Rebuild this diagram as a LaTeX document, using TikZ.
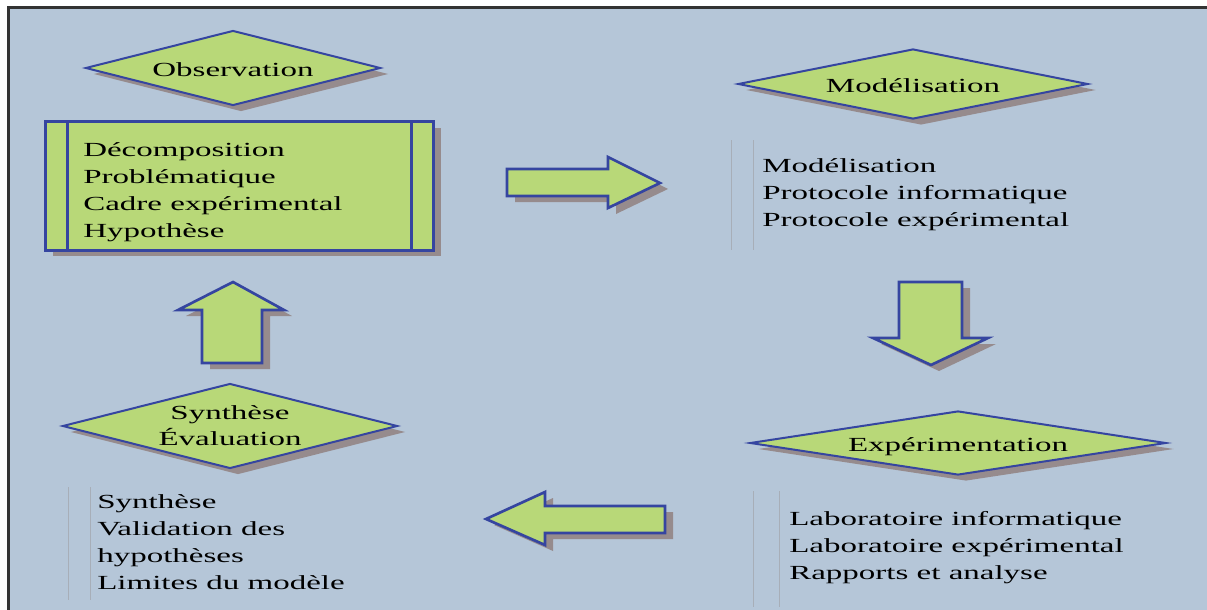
\documentclass[tikz,border=0pt]{standalone}
\usepackage{fontspec}
\setmainfont{Liberation Serif}[FakeStretch=1.65]
\usetikzlibrary{shapes.geometric, shadows}

\definecolor{panelbg}{HTML}{B5C6D8}
\definecolor{stepgreen}{HTML}{B8D878}
\definecolor{stepblue}{HTML}{3545A0}
\definecolor{shadowgray}{HTML}{968B8D}
\definecolor{guidegray}{HTML}{A7AEB8}

\newcommand\stepfont{\fontsize{15pt}{20.25pt}\selectfont}

\tikzset{
  softshadow/.style = {
    drop shadow = {shadow xshift=6pt, shadow yshift=-4.5pt, fill=shadowgray, opacity=1}
  },
  phase/.style = {
    diamond, draw=stepblue, line width=1.5pt, fill=stepgreen, inner sep=0pt,
    align=center, font=\stepfont, softshadow
  },
  oneline/.style = {text height=13pt, text depth=0pt},
  tasklist/.style = {anchor=base west, align=left, inner sep=0pt, font=\stepfont},
  bigarrow/.style = {draw=stepblue, line width=2pt, fill=stepgreen, line join=miter, softshadow},
  guide/.style = {draw=guidegray, line width=0.7pt}
}

\begin{document}
\begin{tikzpicture}[x=0.75pt, y=-0.75pt]

    % Frame
    \useasboundingbox (0,0) rectangle (1207,610);
    \fill[white] (0,0) rectangle (1207,610);
    \fill[panelbg] (8,8) rectangle (1207,610);
    \draw[line width=2.25pt, black!80] (8,610) -- (8,8) -- (1207,8);

    %% Observation
    \node[phase, oneline, aspect=3.9, minimum width=295*0.75pt, minimum height=75*0.75pt] (observation) at (233,68) {Observation};
    \node[draw=stepblue, line width=2.25pt, fill=stepgreen, softshadow,
          minimum width=388*0.75pt, minimum height=128*0.75pt] (obsbox) at (239,186) {};
    \draw[stepblue, line width=2.25pt] ([xshift=18pt]obsbox.north west) -- ([xshift=18pt]obsbox.south west);
    \draw[stepblue, line width=2.25pt] ([xshift=-17.25pt]obsbox.north east) -- ([xshift=-17.25pt]obsbox.south east);
    % base anchor sits on the last line
    \node[tasklist] (obslist) at (83,237) {D\'ecomposition\\Probl\'ematique\\Cadre exp\'erimental\\Hypoth\`ese};

    %% Modelisation
    \node[phase, oneline, aspect=5, minimum width=350*0.75pt, minimum height=70*0.75pt] (modelisation) at (913,84) {Mod\'elisation};
    \draw[guide] (731,140) -- (731,250);
    \draw[guide] (753,140) -- (753,250);
    \node[tasklist] (modlist) at (762,226) {Mod\'elisation\\Protocole informatique\\Protocole exp\'erimental};

    %% Experimentation
    \node[phase, oneline, aspect=6.5, minimum width=416*0.75pt, minimum height=64*0.75pt] (experimentation) at (958,443) {Exp\'erimentation};
    \draw[guide] (753,491) -- (753,607);
    \draw[guide] (779,491) -- (779,607);
    \node[tasklist] (explist) at (789,579) {Laboratoire informatique\\Laboratoire exp\'erimental\\Rapports et analyse};

    %% Synthese
    \node[phase, aspect=3.9, minimum width=335*0.75pt, minimum height=85*0.75pt,
          font=\fontsize{15pt}{19.5pt}\selectfont] (synthese) at (230,426) {Synth\`ese\\\'Evaluation};
    \draw[guide] (68,487) -- (68,600);
    \draw[guide] (90,487) -- (90,600);
    \node[tasklist] (synlist) at (97,589) {Synth\`ese\\Validation des\\hypoth\`eses\\Limites du mod\`ele};

    % Arrows
    \draw[bigarrow] (507,169) -- (608,169) -- (608,157) -- (660,183) -- (608,208) -- (608,196) -- (507,196) -- cycle;
    \draw[bigarrow] (899,282) -- (962,282) -- (962,338) -- (988,338) -- (931,365) -- (873,338) -- (899,338) -- cycle;
    \draw[bigarrow] (665,506) -- (545,506) -- (545,492) -- (486,519) -- (545,545) -- (545,533) -- (665,533) -- cycle;
    \draw[bigarrow] (202,363) -- (202,310) -- (178,310) -- (233,282) -- (284,310) -- (262,310) -- (262,363) -- cycle;

\end{tikzpicture}
\end{document}
